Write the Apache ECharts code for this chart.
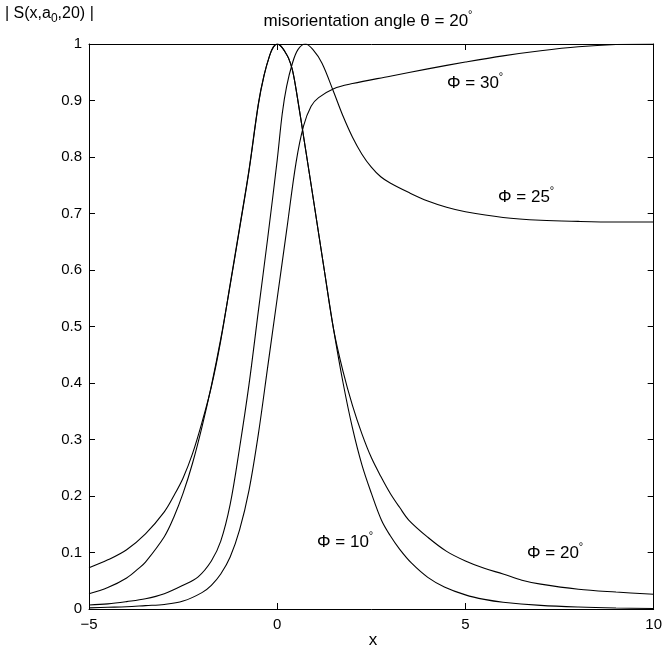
<!DOCTYPE html>
<html>
<head>
<meta charset="utf-8">
<script src="https://cdn.jsdelivr.net/npm/echarts@6/dist/echarts.min.js"></script>
<style>
html,body{margin:0;padding:0;background:#fff;}
#chart{width:665px;height:655px;}
</style>
</head>
<body>
<div id="chart"></div>
<script>
// ---- data ----
const xTicks = [-5, 0, 5, 10];
const yTicks = [0, 0.1, 0.2, 0.3, 0.4, 0.5, 0.6, 0.7, 0.8, 0.9, 1];

const phi10X = [-5, -4.5, -4.0, -3.68, -3.5, -3.0, -2.75, -2.5, -2.25, -2.0, -1.75, -1.5, -1.25, -1.0, -0.75, -0.5, -0.35, -0.2, -0.1, 0, 0.1, 0.2, 0.3, 0.4, 0.5, 0.75, 1.0, 1.25, 1.5, 1.75, 2.0, 2.25, 2.5, 2.77, 3.0, 3.25, 3.57, 4.0, 4.44, 5.0, 5.5, 6.0, 7.0, 8.0, 9.0, 10];
const phi10Y = [0.027, 0.038, 0.055, 0.072, 0.083, 0.128, 0.162, 0.205, 0.258, 0.322, 0.395, 0.478, 0.573, 0.673, 0.775, 0.893, 0.944, 0.980, 0.995, 1.0, 0.996, 0.987, 0.975, 0.955, 0.92, 0.815, 0.708, 0.60, 0.494, 0.40, 0.32, 0.255, 0.205, 0.157, 0.13, 0.106, 0.081, 0.056, 0.039, 0.025, 0.017, 0.012, 0.0065, 0.0035, 0.0018, 0.001];

const phi20X = [-5, -4.5, -4.0, -3.5, -3.0, -2.75, -2.5, -2.25, -2.0, -1.75, -1.5, -1.25, -1.0, -0.75, -0.5, -0.35, -0.2, -0.1, 0, 0.1, 0.2, 0.3, 0.4, 0.5, 0.75, 1.0, 1.25, 1.5, 1.75, 2.0, 2.25, 2.5, 2.75, 3.0, 3.25, 3.5, 4.0, 4.5, 5.0, 5.5, 6.0, 6.5, 7.0, 8.0, 9.0, 10];
const phi20Y = [0.073, 0.087, 0.105, 0.133, 0.172, 0.200, 0.232, 0.275, 0.330, 0.393, 0.475, 0.575, 0.675, 0.777, 0.895, 0.945, 0.980, 0.995, 1.0, 0.996, 0.987, 0.975, 0.955, 0.92, 0.815, 0.708, 0.60, 0.494, 0.42, 0.36, 0.31, 0.268, 0.235, 0.205, 0.18, 0.157, 0.127, 0.102, 0.085, 0.072, 0.062, 0.051, 0.044, 0.035, 0.030, 0.026];

const phi25X = [-5, -4.5, -4.0, -3.5, -3.0, -2.5, -2.1, -1.75, -1.5, -1.25, -1.0, -0.75, -0.5, -0.25, 0, 0.134, 0.25, 0.4, 0.55, 0.75, 0.95, 1.19, 1.5, 1.75, 2.0, 2.25, 2.5, 2.75, 3.0, 3.5, 4.0, 4.5, 5.0, 6.0, 7.0, 8.0, 9.0, 10];
const phi25Y = [0.007, 0.009, 0.013, 0.018, 0.027, 0.042, 0.057, 0.085, 0.12, 0.185, 0.285, 0.397, 0.528, 0.658, 0.795, 0.877, 0.925, 0.965, 0.99, 1.0, 0.99, 0.966, 0.915, 0.872, 0.835, 0.805, 0.782, 0.765, 0.754, 0.737, 0.722, 0.711, 0.703, 0.693, 0.688, 0.686, 0.685, 0.685];

const phi30X = [-5, -4.5, -4, -3.5, -3, -2.5, -2.0, -1.75, -1.5, -1.25, -1.0, -0.75, -0.5, -0.25, 0, 0.25, 0.5, 0.7, 0.9, 1.1, 1.5, 2, 3, 4, 5, 6, 7, 8, 9, 10];
const phi30Y = [0.002, 0.003, 0.004, 0.006, 0.008, 0.014, 0.029, 0.042, 0.062, 0.092, 0.14, 0.21, 0.31, 0.43, 0.55, 0.67, 0.79, 0.855, 0.89, 0.905, 0.921, 0.930, 0.943, 0.956, 0.968, 0.979, 0.988, 0.995, 0.999, 1.0];

const seriesNames = ['Φ = 10°', 'Φ = 20°', 'Φ = 25°', 'Φ = 30°'];
const titleText = 'misorientation angle θ = 20';
const xLabel = 'x';

// ---- build chart ----
const FONT = '"Liberation Sans", Arial, Helvetica, sans-serif';
function pairs(xs, ys) { return xs.map((x, i) => [x, ys[i]]); }
const allX = [phi10X, phi20X, phi25X, phi30X];
const allY = [phi10Y, phi20Y, phi25Y, phi30Y];

const chart = echarts.init(document.getElementById('chart'), null, {renderer: 'canvas'});

const baseX = {
  type: 'value', min: xTicks[0], max: xTicks[xTicks.length - 1], interval: 5,
  axisLine: {show: true, onZero: false, lineStyle: {color: '#000', width: 1}},
  axisTick: {show: true, inside: true, length: 6, lineStyle: {color: '#000'}},
  splitLine: {show: false}
};
const baseY = {
  type: 'value', min: yTicks[0], max: yTicks[yTicks.length - 1], interval: 0.1,
  axisLine: {show: true, onZero: false, lineStyle: {color: '#000', width: 1}},
  axisTick: {show: true, inside: true, length: 6, lineStyle: {color: '#000'}},
  splitLine: {show: false}
};

const sup = {fontSize: 11, fontFamily: FONT, color: '#000', padding: [0, 0, 12, 0]};
function annot(x, y, main) {
  return {
    type: 'text', x: x, y: y,
    style: {
      text: '{m|' + main + '}{s|°}',
      rich: {m: {fontSize: 17, fontFamily: FONT, color: '#000'}, s: sup},
      textAlign: 'left', textVerticalAlign: 'middle'
    }
  };
}

chart.setOption({
  animation: false,
  backgroundColor: '#fff',
  grid: {left: 89, right: 8, top: 44, bottom: 46, show: false},
  xAxis: [
    Object.assign({}, baseX, {position: 'bottom',
      axisLabel: {show: true, color: '#000', fontSize: 15, fontFamily: FONT, margin: 8,
        formatter: v => String(v).replace('-', '\u2212')}}),
    Object.assign({}, baseX, {position: 'top', axisLabel: {show: false}})
  ],
  yAxis: [
    Object.assign({}, baseY, {position: 'left',
      axisLabel: {show: true, color: '#000', fontSize: 15, fontFamily: FONT, margin: 7,
        formatter: v => String(Math.round(v * 10) / 10)}}),
    Object.assign({}, baseY, {position: 'right', axisLabel: {show: false}})
  ],
  series: allX.map((xs, i) => ({
    name: seriesNames[i], type: 'line', xAxisIndex: 0, yAxisIndex: 0,
    data: pairs(xs, allY[i]), showSymbol: false, smooth: 0.35,
    lineStyle: {color: '#000', width: 1.1}, clip: true
  })),
  graphic: [
    {type: 'text', x: 368, y: 21, style: {
      text: '{m|' + titleText + '}{s|°}',
      rich: {m: {fontSize: 17, fontFamily: FONT, color: '#000'}, s: sup},
      textAlign: 'center', textVerticalAlign: 'middle'}},
    {type: 'text', x: 5, y: 14, style: {
      text: '{m|| S(x,a}{b|0}{m|,20) |}',
      rich: {m: {fontSize: 16, fontFamily: FONT, color: '#000'},
             b: {fontSize: 12, fontFamily: FONT, color: '#000', padding: [10, 0, 0, 0]}},
      textAlign: 'left', textVerticalAlign: 'middle'}},
    {type: 'text', x: 373, y: 640, style: {text: xLabel, fontSize: 17, fontFamily: FONT, fill: '#000',
      textAlign: 'center', textVerticalAlign: 'middle'}},
    annot(447, 83, 'Φ = 30'),
    annot(498, 197, 'Φ = 25'),
    annot(317, 542, 'Φ = 10'),
    annot(527, 553, 'Φ = 20')
  ]
});
</script>
</body>
</html>
